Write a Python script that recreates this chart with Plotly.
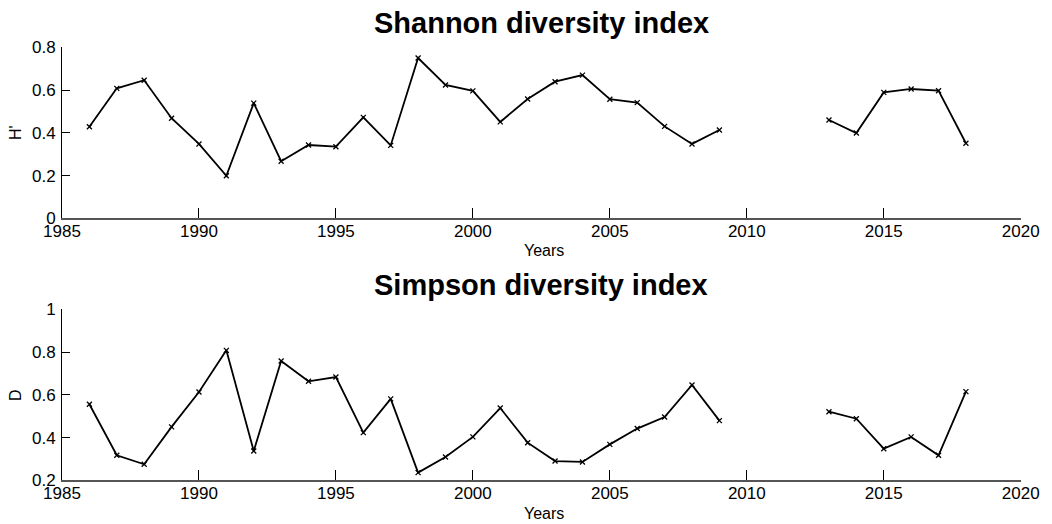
import plotly.graph_objects as go

years = [1986, 1987, 1988, 1989, 1990, 1991, 1992, 1993, 1994, 1995, 1996, 1997,
         1998, 1999, 2000, 2001, 2002, 2003, 2004, 2005, 2006, 2007, 2008, 2009,
         2010, 2011, 2012, 2013, 2014, 2015, 2016, 2017, 2018]

shannon = [0.428, 0.608, 0.646, 0.468, 0.348, 0.199, 0.539, 0.267, 0.343, 0.335, 0.472, 0.341,
           0.750, 0.624, 0.596, 0.451, 0.558, 0.639, 0.670, 0.557, 0.541, 0.430, 0.348, 0.413,
           None, None, None, 0.460, 0.399, 0.589, 0.605, 0.597, 0.351]

simpson = [0.556, 0.317, 0.275, 0.450, 0.613, 0.808, 0.337, 0.758, 0.663, 0.683, 0.423, 0.581,
           0.236, 0.309, 0.403, 0.538, 0.376, 0.290, 0.286, 0.368, 0.442, 0.496, 0.646, 0.479,
           None, None, None, 0.521, 0.488, 0.348, 0.403, 0.317, 0.615]

x_ticks = [1985, 1990, 1995, 2000, 2005, 2010, 2015, 2020]
top_yticks = [0, 0.2, 0.4, 0.6, 0.8]
top_ylabels = ["0", "0.2", "0.4", "0.6", "0.8"]
bot_yticks = [0.2, 0.4, 0.6, 0.8, 1.0]
bot_ylabels = ["0.2", "0.4", "0.6", "0.8", "1"]

FONT = "Liberation Sans, Arial, sans-serif"
OFF = 8  # default page body margin
W, H = 1052 - OFF, 524 - OFF


def px(x):
    return (x - OFF) / W


def py(y):
    return (H - (y - OFF)) / H


fig = go.Figure()


def trace(y, xa, ya):
    return go.Scatter(
        x=years, y=y, xaxis=xa, yaxis=ya, mode="lines+markers",
        connectgaps=False,
        line=dict(color="black", width=1.8),
        marker=dict(symbol="x-thin", size=5, line=dict(color="black", width=1.3)),
        showlegend=False, hoverinfo="x+y",
    )


fig.add_trace(trace(shannon, "x", "y"))
fig.add_trace(trace(simpson, "x2", "y2"))

xd = [px(62), px(1020.7)]
top_dom = [py(218.3), py(47.3)]
bot_dom = [py(480.3), py(309.3)]

xcommon = dict(
    range=[1985, 2020], tickvals=x_ticks, ticks="inside", ticklen=10, tickwidth=1,
    tickcolor="black", showline=True, linecolor="#555555", linewidth=2,
    showgrid=False, zeroline=False, domain=xd, automargin=False,
    ticklabelstandoff=-4,
    tickfont=dict(family=FONT, size=17, color="black"),
)
ycommon = dict(
    ticks="inside", ticklen=8, tickwidth=1, tickcolor="black",
    showline=True, linecolor="black", linewidth=1, showgrid=False, zeroline=False,
    automargin=False, ticklabelstandoff=2,
    tickfont=dict(family=FONT, size=17, color="black"),
)


def txt(text, x, y, size, bold=False, angle=0):
    return dict(text=f"<b>{text}</b>" if bold else text, x=px(x), y=py(y),
                xref="paper", yref="paper", showarrow=False, xanchor="center",
                yanchor="middle", textangle=angle,
                font=dict(family=FONT, size=size, color="black"))


fig.update_layout(
    width=W, height=H,
    margin=dict(l=0, r=0, t=0, b=0),
    paper_bgcolor="white", plot_bgcolor="white",
    xaxis=dict(**xcommon, anchor="y"),
    yaxis=dict(**ycommon, domain=top_dom, range=[0, 0.8], tickvals=top_yticks,
               ticktext=top_ylabels, anchor="x"),
    xaxis2=dict(**xcommon, anchor="y2"),
    yaxis2=dict(**ycommon, domain=bot_dom, range=[0.2, 1.0], tickvals=bot_yticks,
                ticktext=bot_ylabels, anchor="x2"),
    annotations=[
        txt("Shannon diversity index", 541, 23, 29, bold=True),
        txt("Simpson diversity index", 541, 285, 29, bold=True),
        txt("Years", 544, 251, 16),
        txt("Years", 544, 513, 16),
        txt("H'", 15, 133, 16, angle=-90),
        txt("D", 15, 395, 16, angle=-90),
    ],
)

fig.write_html("out.html")
